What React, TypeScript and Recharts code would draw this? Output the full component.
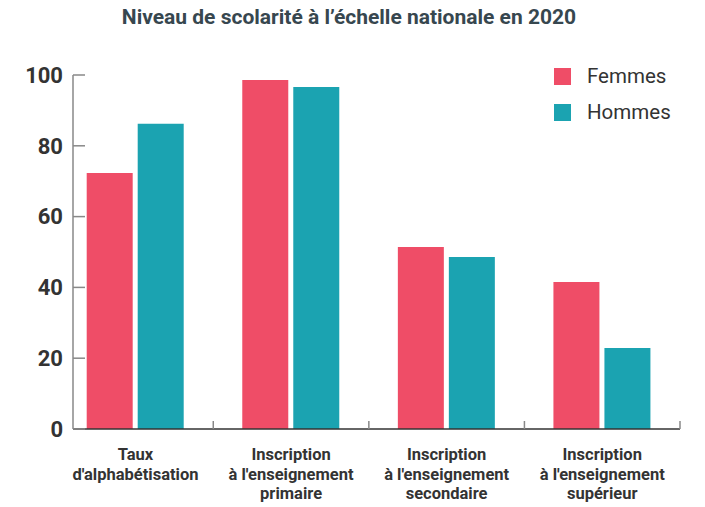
import React from 'react';
import { BarChart, Bar, XAxis, YAxis } from 'recharts';

const categories = [
  'Taux\nd\'alphabétisation',
  'Inscription\nà l\'enseignement\nprimaire',
  'Inscription\nà l\'enseignement\nsecondaire',
  'Inscription\nà l\'enseignement\nsupérieur',
];
const femmes = [72.3, 98.6, 51.4, 41.5];
const hommes = [86.2, 96.6, 48.6, 22.9];
const yTicks = [0, 20, 40, 60, 80, 100];

const seriesInfo = [
  { key: 'femmes', name: 'Femmes', color: '#EF4D67' },
  { key: 'hommes', name: 'Hommes', color: '#1BA3B1' },
];

const FONT = 'Roboto, "Noto Sans", sans-serif';

const data = categories.map((c, i) => ({ category: c, femmes: femmes[i], hommes: hommes[i] }));

const XTick = (props: any) => {
  const { x, y, payload } = props;
  const half = payload.offset || 0;
  const lines = String(payload.value).split('\n');
  return (
    <g>
      <line x1={x + half} x2={x + half} y1={y} y2={y - 8} stroke="#888" strokeWidth={1.5} />
      <text x={x} y={y} textAnchor="middle" fill="#333" fontSize={16.5} fontWeight={700} fontFamily={FONT}>
        {lines.map((l, i) => (
          <tspan key={i} x={x} y={y + 31 + i * 19.5}>{l}</tspan>
        ))}
      </text>
    </g>
  );
};

const App = () => {
  return (
    <div style={{ position: 'absolute', left: 0, top: 0, width: 705, height: 507, background: '#fff' }}>
      <div
        style={{
          position: 'absolute',
          top: 5,
          left: 0,
          width: 698,
          textAlign: 'center',
          fontFamily: FONT,
          fontWeight: 700,
          fontSize: 21,
          color: '#37474F',
        }}
      >
        Niveau de scolarité à l’échelle nationale en 2020
      </div>
      <div style={{ position: 'absolute', top: 58, left: 554, fontFamily: FONT, zIndex: 2 }}>
        {seriesInfo.map((s) => (
          <div key={s.key} style={{ display: 'flex', alignItems: 'center', height: 36 }}>
            <div style={{ width: 17, height: 17, background: s.color, marginRight: 16 }} />
            <span style={{ fontSize: 20.5, color: '#333' }}>{s.name}</span>
          </div>
        ))}
      </div>
      <BarChart
        width={705}
        height={507}
        data={data}
        margin={{ top: 75, right: 25, bottom: 0, left: 0 }}
        barSize={46}
        barGap={5}
      >
        <XAxis
          dataKey="category"
          interval={0}
          padding={{ left: -15.3, right: 0 }}
          tickLine={false}
          tickSize={0}
          tickMargin={0}
          axisLine={{ stroke: '#333', strokeWidth: 1.5 }}
          tick={<XTick />}
          height={78}
        />
        <YAxis
          width={73}
          domain={[0, 100]}
          ticks={yTicks}
          interval={0}
          tickSize={-12}
          tickMargin={22}
          axisLine={{ stroke: '#888', strokeWidth: 1.5 }}
          tickLine={{ stroke: '#888', strokeWidth: 1.5 }}
          tick={{ fill: '#333', fontSize: 22, fontWeight: 700, fontFamily: FONT }}
        />
        {seriesInfo.map((s) => (
          <Bar key={s.key} dataKey={s.key} name={s.name} fill={s.color} isAnimationActive={false} />
        ))}
      </BarChart>
    </div>
  );
};

export default App;
